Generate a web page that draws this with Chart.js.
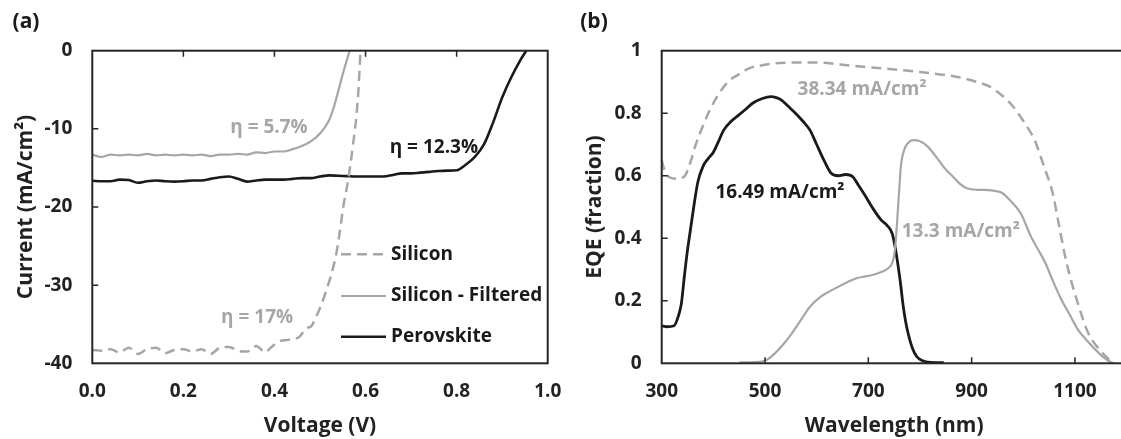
<!DOCTYPE html>
<html><head><meta charset="utf-8">
<script src="https://cdn.jsdelivr.net/npm/chart.js@4.4.1/dist/chart.umd.min.js"></script>
<style>
html,body{margin:0;padding:0;background:#fff;overflow:hidden;width:1121px;height:439px;}
#wrap{position:relative;width:1121px;height:439px;overflow:hidden;background:#fff;}
#ca{position:absolute;left:0;top:0;width:580px;height:439px;}
#cb{position:absolute;left:560px;top:0;width:600px;height:439px;}
</style></head><body><div id="wrap"><canvas id="cb" width="600" height="439"></canvas><canvas id="ca" width="580" height="439"></canvas></div>
<script>
// ---------- Panel (a): J-V curves ----------
const voltageTicks = [0, 0.2, 0.4, 0.6, 0.8, 1.0];
const currentTicks = [-40, -30, -20, -10, 0];

const siliconV = [0,0.02,0.04,0.06,0.08,0.10,0.12,0.14,0.16,0.18,0.20,0.22,0.24,0.26,0.28,0.30,0.32,0.34,0.36,0.38,0.39,0.41,0.43,0.455,0.47,0.48,0.492,0.512,0.536,0.547,0.551,0.562,0.571,0.583,0.589];
const siliconJ = [-38.3,-38.4,-38.2,-38.6,-38.0,-38.8,-38.2,-38.0,-38.7,-38.3,-38.2,-38.5,-38.2,-38.8,-38.0,-37.9,-38.4,-38.5,-37.8,-38.6,-38.1,-37.2,-37.0,-36.6,-35.5,-35.3,-34.0,-31.0,-25.9,-21.7,-20.0,-16.5,-12.7,-6.3,0];

const filteredV = [0,0.02,0.04,0.06,0.08,0.10,0.12,0.14,0.16,0.18,0.20,0.22,0.24,0.26,0.28,0.30,0.32,0.34,0.36,0.38,0.40,0.42,0.44,0.46,0.48,0.50,0.52,0.53,0.54,0.55,0.56,0.565];
const filteredJ = [-13.3,-13.6,-13.3,-13.4,-13.3,-13.4,-13.2,-13.4,-13.3,-13.4,-13.3,-13.4,-13.3,-13.5,-13.3,-13.3,-13.2,-13.3,-13.0,-13.1,-12.9,-12.9,-12.6,-12.2,-11.6,-10.6,-8.9,-7.3,-5.2,-3.0,-1.0,0];

const perovV = [0,0.02,0.04,0.06,0.08,0.10,0.12,0.14,0.16,0.18,0.20,0.22,0.24,0.26,0.28,0.30,0.32,0.34,0.36,0.38,0.40,0.42,0.44,0.46,0.48,0.50,0.52,0.54,0.56,0.58,0.60,0.62,0.64,0.66,0.68,0.70,0.72,0.74,0.76,0.78,0.80,0.82,0.84,0.86,0.88,0.90,0.92,0.94,0.953];
const perovJ = [-16.65,-16.7,-16.7,-16.5,-16.55,-16.9,-16.7,-16.6,-16.7,-16.75,-16.7,-16.6,-16.6,-16.4,-16.2,-16.1,-16.4,-16.75,-16.6,-16.5,-16.5,-16.5,-16.4,-16.3,-16.3,-16.1,-15.95,-16.0,-16.05,-16.1,-16.1,-16.1,-16.1,-15.9,-15.7,-15.7,-15.6,-15.5,-15.4,-15.35,-15.3,-14.6,-13.6,-12.0,-9.2,-6.0,-3.4,-1.2,0];

const ivLabels = ['Silicon', 'Silicon - Filtered', 'Perovskite'];
const ivNotes = [
  {text:'η = 5.7%',  x:0.388, y:-9.9,  gray:true},
  {text:'η = 12.3%', x:0.750, y:-12.45, gray:false},
  {text:'η = 17%',   x:0.362, y:-34.2, gray:true}
];

// ---------- Panel (b): EQE ----------
const wavelengthTicks = [300, 500, 700, 900, 1100];
const eqeTicks = [0, 0.2, 0.4, 0.6, 0.8, 1];

const siEqeW = [300,305,315,330,345,355,366,380,393,410,428,450,470,500,520,560,600,650,700,750,800,850,884,910,935,960,981,1000,1022,1040,1057,1067,1084,1106,1126,1154,1174];
const siEqeE = [0.65,0.62,0.595,0.59,0.60,0.64,0.70,0.76,0.81,0.86,0.90,0.925,0.944,0.955,0.96,0.962,0.962,0.955,0.947,0.94,0.932,0.922,0.912,0.90,0.885,0.855,0.82,0.775,0.714,0.63,0.544,0.46,0.32,0.19,0.096,0.032,0];

const pvEqeW = [300,310,324,332,338,344,349,355,362,370,380,390,400,410,420,435,449,462,476,495,511,522,532,545,559,573,587,600,614,628,642,656,670,680,691,711,725,737,746,751,756,762,767,772,777,785,794,805,821,846];
const pvEqeE = [0.12,0.117,0.12,0.15,0.19,0.28,0.35,0.42,0.5,0.58,0.63,0.655,0.675,0.71,0.746,0.775,0.794,0.812,0.832,0.847,0.853,0.85,0.842,0.822,0.80,0.775,0.746,0.70,0.65,0.608,0.600,0.604,0.597,0.572,0.544,0.49,0.458,0.44,0.416,0.38,0.33,0.26,0.19,0.135,0.096,0.05,0.021,0.008,0.003,0.002];

const fEqeW = [450,480,500,518,535,552,570,587,608,625,642,660,677,695,711,725,739,746,750,753,756,760,763,770,777,787,798,815,836,850,864,878,891,910,933,950,960,975,995,1015,1030,1043,1057,1071,1090,1106,1125,1140,1155,1168,1175];
const fEqeE = [0.003,0.004,0.008,0.03,0.06,0.096,0.14,0.181,0.213,0.23,0.245,0.26,0.272,0.278,0.284,0.292,0.305,0.32,0.345,0.39,0.46,0.56,0.63,0.685,0.705,0.714,0.712,0.693,0.65,0.62,0.597,0.573,0.56,0.555,0.554,0.55,0.544,0.52,0.48,0.405,0.36,0.32,0.265,0.213,0.155,0.107,0.07,0.043,0.02,0.005,0];

const eqeNotes = [
  {text:'38.34 mA/cm²', x:688, y:0.877, gray:true},
  {text:'16.49 mA/cm²', x:529, y:0.545, gray:false},
  {text:'13.3 mA/cm²',  x:879, y:0.421, gray:true}
];

// ---------- styling ----------
const GRAY = '#a6a6a6';
const DARK = '#1a1a1a';
const AXIS = '#262626';
const FAMILY = '"Open Sans", "Noto Sans", sans-serif';

Chart.defaults.font.family = FAMILY;
Chart.defaults.font.size = 19;
Chart.defaults.font.weight = 'bold';
Chart.defaults.color = '#222';

const pts = (xs, ys) => xs.map((x, i) => ({x, y: ys[i]}));

function lineDs(label, xs, ys, color, width, dash) {
  return {
    label, data: pts(xs, ys), borderColor: color, borderWidth: width,
    borderDash: dash || [], pointRadius: 0, fill: false,
    cubicInterpolationMode: 'monotone', clip: 4
  };
}

function boxAndTicks(chart, xTickVals, xAtTop, yTickVals) {
  const {ctx, chartArea: a, scales: {x, y}} = chart;
  ctx.save();
  ctx.strokeStyle = AXIS; ctx.lineWidth = 2;
  ctx.strokeRect(a.left, a.top, a.right - a.left, a.bottom - a.top);
  ctx.lineWidth = 1.5;
  ctx.beginPath();
  xTickVals.forEach(v => {
    const px = x.getPixelForValue(v);
    if (xAtTop) { ctx.moveTo(px, a.top); ctx.lineTo(px, a.top + 6); }
    else { ctx.moveTo(px, a.bottom); ctx.lineTo(px, a.bottom - 6); }
  });
  yTickVals.forEach(v => {
    const py = y.getPixelForValue(v);
    ctx.moveTo(a.left, py); ctx.lineTo(a.left + 6, py);
  });
  ctx.stroke();
  ctx.restore();
}

function drawNotes(chart, notes, size) {
  const {ctx, scales: {x, y}} = chart;
  ctx.save();
  ctx.font = 'bold ' + size + 'px ' + FAMILY;
  ctx.textAlign = 'center'; ctx.textBaseline = 'middle';
  notes.forEach(n => {
    ctx.fillStyle = n.gray ? GRAY : DARK;
    ctx.fillText(n.text, x.getPixelForValue(n.x), y.getPixelForValue(n.y));
  });
  ctx.restore();
}

function panelLabel(chart, text, px, py) {
  const ctx = chart.ctx;
  ctx.save();
  ctx.font = 'bold 21px ' + FAMILY;
  ctx.fillStyle = DARK; ctx.textAlign = 'center'; ctx.textBaseline = 'middle';
  ctx.fillText(text, px, py);
  ctx.restore();
}

// ---------- Chart (a) ----------
const A_LEFT = 92.3, A_TOP = 50.7, A_BOTTOM = 363.3, A_W = 580, A_H = 439, A_RIGHTPAD = A_W - 547.7;

new Chart(document.getElementById('ca'), {
  type: 'line',
  data: {
    datasets: [
      lineDs(ivLabels[0], siliconV, siliconJ, GRAY, 2.5, [10, 6]),
      lineDs(ivLabels[1], filteredV, filteredJ, GRAY, 2.2),
      lineDs(ivLabels[2], perovV, perovJ, DARK, 2.6)
    ]
  },
  options: {
    responsive: false, animation: false, devicePixelRatio: 1,
    layout: {padding: {left: 0, top: A_TOP, right: A_RIGHTPAD, bottom: 0}},
    plugins: {legend: {display: false}, tooltip: {enabled: false}},
    scales: {
      x: {
        type: 'linear', min: 0, max: 1,
        afterBuildTicks: s => { s.ticks = voltageTicks.map(v => ({value: v})); },
        afterFit: s => { s.height = A_H - A_BOTTOM; },
        ticks: {padding: 17, callback: v => v.toFixed(1), font: {size: 19}},
        grid: {display: false, drawTicks: false}, border: {display: false},
        title: {display: true, text: 'Voltage (V)', font: {size: 21}, padding: {top: 0, bottom: 0}}
      },
      y: {
        type: 'linear', min: -40, max: 0,
        afterBuildTicks: s => { s.ticks = currentTicks.map(v => ({value: v})); },
        afterFit: s => { s.width = A_LEFT; },
        ticks: {padding: 20, font: {size: 19}},
        grid: {display: false, drawTicks: false}, border: {display: false},
        title: {display: true, text: 'Current (mA/cm²)', font: {size: 21}, padding: {top: 13, bottom: 0}}
      }
    }
  },
  plugins: [{
    id: 'decorA',
    afterDatasetsDraw(chart) {
      boxAndTicks(chart, [0.2, 0.4, 0.6, 0.8], true, [-10, -20, -30]);
      drawNotes(chart, ivNotes, 19);
      const {ctx} = chart;
      const rows = [254.3, 296, 336.7];
      ctx.save();
      ctx.font = 'bold 19px ' + FAMILY;
      ctx.textBaseline = 'middle'; ctx.textAlign = 'left';
      chart.data.datasets.forEach((ds, i) => {
        ctx.strokeStyle = ds.borderColor; ctx.lineWidth = ds.borderWidth;
        ctx.setLineDash(ds.borderDash);
        ctx.beginPath(); ctx.moveTo(341, rows[i]); ctx.lineTo(386, rows[i]); ctx.stroke();
        ctx.setLineDash([]);
        ctx.fillStyle = DARK;
        ctx.fillText(ds.label, 391, rows[i]);
      });
      ctx.restore();
      panelLabel(chart, '(a)', 26, 22);
    }
  }]
});

// ---------- Chart (b) ----------
const B_LEFT = 661.7 - 560, B_TOP = 50.7, B_BOTTOM = 363.3, B_W = 600, B_H = 439, B_RIGHTPAD = B_W - (1126.6 - 560);

new Chart(document.getElementById('cb'), {
  type: 'line',
  data: {
    datasets: [
      lineDs('Silicon', siEqeW, siEqeE, GRAY, 2.5, [10, 6]),
      lineDs('Silicon - Filtered', fEqeW, fEqeE, GRAY, 2.2),
      lineDs('Perovskite', pvEqeW, pvEqeE, DARK, 2.8)
    ]
  },
  options: {
    responsive: false, animation: false, devicePixelRatio: 1,
    layout: {padding: {left: 0, top: B_TOP, right: B_RIGHTPAD, bottom: 0}},
    plugins: {legend: {display: false}, tooltip: {enabled: false}},
    scales: {
      x: {
        type: 'linear', min: 300, max: 1200,
        afterBuildTicks: s => { s.ticks = wavelengthTicks.map(v => ({value: v})); },
        afterFit: s => { s.height = B_H - B_BOTTOM; },
        ticks: {padding: 17, callback: v => String(v), font: {size: 19}},
        grid: {display: false, drawTicks: false}, border: {display: false},
        title: {display: true, text: 'Wavelength (nm)', font: {size: 21}, padding: {top: 0, bottom: 0}}
      },
      y: {
        type: 'linear', min: 0, max: 1,
        afterBuildTicks: s => { s.ticks = eqeTicks.map(v => ({value: v})); },
        afterFit: s => { s.width = B_LEFT; },
        ticks: {padding: 20, callback: v => String(v), font: {size: 19}},
        grid: {display: false, drawTicks: false}, border: {display: false},
        title: {display: true, text: 'EQE (fraction)', font: {size: 21}, padding: {top: 22, bottom: 0}}
      }
    }
  },
  plugins: [{
    id: 'decorB',
    afterDatasetsDraw(chart) {
      boxAndTicks(chart, [500, 700, 900, 1100], false, [0.2, 0.4, 0.6, 0.8]);
      drawNotes(chart, eqeNotes, 19);
      panelLabel(chart, '(b)', 34, 22);
    }
  }]
});
</script>
</body></html>
